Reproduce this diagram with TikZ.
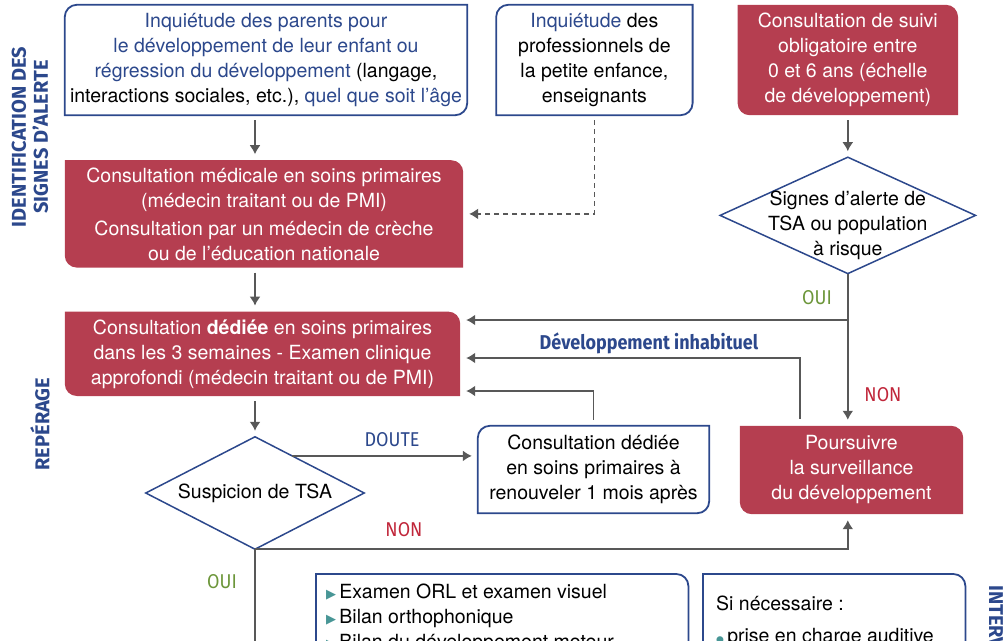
\documentclass[tikz,border=0pt]{standalone}
\usepackage{fontspec}
\setmainfont{TeX Gyre Heros}
\newfontfamily\titlefont{Fira Sans}
\newfontfamily\labelfont[FakeStretch=0.9]{Fira Sans}
\newfontfamily\symfont{DejaVu Sans}
\usetikzlibrary{positioning, calc, backgrounds, arrows.meta}
\definecolor{hasred}{RGB}{181,62,80}
\definecolor{hasblue}{RGB}{44,72,140}
\definecolor{arrowgray}{RGB}{88,88,88}
\definecolor{ouigreen}{RGB}{108,150,58}
\definecolor{nonred}{RGB}{192,38,58}
\definecolor{bullteal}{RGB}{72,150,150}
\tikzset{
	txt/.style={font=\fontsize{19.5}{25}\selectfont, align=center, inner sep=0pt},
	bluebox/.style={txt},
	redbox/.style={txt, text=white},
	frame/.style={draw=hasblue, line width=1.8pt},
	flow/.style={draw=arrowgray, line width=1.6pt, ->, shorten >=6pt, shorten <=5pt},
	% labels on the connectors
	branch/.style={font=\labelfont\fontsize{20}{20}\selectfont, inner sep=0pt},
	sectionbase/.style={font=\titlefont\bfseries\fontsize{20}{22}\selectfont, text=hasblue, align=center, inner sep=0pt},
	section/.style={sectionbase, rotate=90}
}

\begin{document}
\begin{tikzpicture}[x=1pt, y=-1pt, >={Latex[width=11pt,length=9pt]}]
	\useasboundingbox (0,0) rectangle (1008,640);

	% section titles
	\node (ident) [section] at (30,137) {IDENTIFICATION DES\\SIGNES D’ALERTE};
	\node (reper) [section] at (40,424) {REPÉRAGE};
	\node (interv) [sectionbase, rotate=-90, anchor=west] at (996,585) {INTERVENTIONS};

	% top row
	\node (parents) [bluebox, minimum width=402pt, minimum height=110pt] at (266,60) {\textcolor{hasblue}{Inquiétude des parents pour}\\ \textcolor{hasblue}{le développement de leur enfant ou}\\ \textcolor{hasblue}{régression du développement} (langage,\\ interactions sociales, etc.), \textcolor{hasblue}{quel que soit l’âge}};
	\node (pros) [bluebox, minimum width=196pt, minimum height=110pt, right=29pt of parents] {\textcolor{hasblue}{Inquiétude} des\\ professionnels de\\ la petite enfance,\\ enseignants};
	\node (suivi) [redbox, minimum width=220pt, minimum height=110pt, right=45pt of pros] {Consultation de suivi\\ obligatoire entre\\ 0 et 6 ans (échelle\\ de développement)};

	\node (medic) [redbox, minimum width=398pt, minimum height=107pt, below=45pt of parents.south west, anchor=north west] {Consultation médicale en soins primaires\\ (médecin traitant ou de PMI)\\[3pt] Consultation par un médecin de crèche\\ ou de l’éducation nationale};
	\node (signes) [minimum width=255pt, minimum height=116pt, inner sep=0pt, below=42pt of suivi] {};
	\node (signestxt) [txt] at ($(signes)+(0,10)$) {Signes d’alerte de\\ TSA ou population\\ à risque};

	\node (dediee) [redbox, minimum width=395pt, minimum height=84pt, below=44pt of medic.south west, anchor=north west] {Consultation \textbf{dédiée} en soins primaires\\ dans les 3 semaines - Examen clinique\\ approfondi (médecin traitant ou de PMI)};

	\node (susp) [txt, minimum width=218pt, minimum height=112pt] at (255,493) {Suspicion de TSA};
	\node (renouv) [bluebox, minimum width=231pt, minimum height=87pt] at (593.5,469.5) {Consultation dédiée\\ en soins primaires à\\ renouveler 1 mois après};
	\node (poursuivre) [redbox, minimum width=223pt, minimum height=88pt] at (851.5,470) {Poursuivre\\ la surveillance\\ du développement};

	\node (orl) [minimum width=372pt, minimum height=120pt, inner sep=0pt, anchor=north west] at (316,574) {};
	\node (orltxt) [txt, align=left, anchor=north west] at ([shift={(10pt,-10pt)}]orl.north west) {{\symfont\color{bullteal}\fontsize{13}{13}\selectfont ▶}\,Examen ORL et examen visuel\\ {\symfont\color{bullteal}\fontsize{13}{13}\selectfont ▶}\,Bilan orthophonique\\ {\symfont\color{bullteal}\fontsize{13}{13}\selectfont ▶}\,Bilan du développement moteur};
	\node (sinec) [minimum width=262pt, minimum height=120pt, inner sep=0pt, anchor=north west] at (703,574) {};
	\node (sinectxt) [txt, align=left, anchor=north west] at ([shift={(13pt,-22pt)}]sinec.north west) {Si nécessaire :\\[7pt] {\symfont\color{bullteal}\fontsize{9}{9}\selectfont ●}\,prise en charge auditive};

	% helper coordinates for the bends
	\coordinate (youi) at (0,320);
	\coordinate (ydev) at (800,358);
	\coordinate (yren) at (0,391);
	\coordinate (yend) at (0,670);
	\coordinate (doute) at ($(susp.north)!0.34!(susp.east)$);

	\begin{scope}[flow]
		\draw (parents.south -| susp.north) -- (medic.north -| susp.north);
		\draw (medic.south -| susp.north) -- (dediee.north -| susp.north);
		\draw (dediee.south -| susp.north) -- (susp.north);
		\draw (suivi.south -| signes.north) -- (signes.north);
		\draw[shorten <=0pt] (signes.south) -- (signes.south |- poursuivre.north);
		\draw[shorten <=0pt] (signes.south |- youi) -- (dediee.east |- youi);
		\draw[shorten <=7pt] (ydev |- poursuivre.north) -- (ydev) -- (ydev -| dediee.east);
		\draw[shorten <=6pt] (renouv.north) -- (renouv.north |- yren) -- (yren -| dediee.east);
		\draw[shorten <=0pt] (doute) -- (doute -| renouv.west);
		\draw[shorten <=0pt] (susp.south) -- (susp.south -| signes.south) -- (signes.south |- poursuivre.south);
		\draw[-, shorten <=0pt, shorten >=0pt] (susp.south) -- (susp.south |- yend);
		\draw[dash pattern=on 5pt off 4pt, line width=1.4pt] (pros.south) -- (pros.south |- medic.east) -- (medic.east);
	\end{scope}

	\node[branch, text=ouigreen] at (817,298) {OUI};
	\node[branch, text=nonred] at (883,395) {NON};
	\node[branch, text=hasblue, font=\labelfont\bfseries\fontsize{20}{20}\selectfont] at (649,343) {Développement inhabituel};
	\node[branch, text=hasblue] at (392,440) {DOUTE};
	\node[branch, text=nonred] at (404,530) {NON};
	\node[branch, text=ouigreen] at (222,582) {OUI};

	\begin{scope}[on background layer]
		\foreach \n in {suivi, medic, dediee, poursuivre}
			\fill[hasred] (\n.north west) -- ([xshift=-12pt]\n.north east) arc[start angle=90, end angle=0, radius=12pt] -- (\n.south east) -- ([xshift=12pt]\n.south west) arc[start angle=270, end angle=180, radius=12pt] -- cycle;
		\foreach \n in {parents, pros, renouv}
			\draw[frame] (\n.north east) -- ([xshift=12pt]\n.north west) arc[start angle=90, end angle=180, radius=12pt] -- (\n.south west) -- ([xshift=-12pt]\n.south east) arc[start angle=270, end angle=360, radius=12pt] -- cycle;
		\foreach \n in {orl, sinec}
			\draw[frame] (\n.north west) -- ([xshift=-12pt]\n.north east) arc[start angle=90, end angle=0, radius=12pt] -- (\n.south east) -- ([xshift=12pt]\n.south west) arc[start angle=270, end angle=180, radius=12pt] -- cycle;
		\foreach \n in {signes, susp}
			\draw[frame, line width=1.5pt] (\n.north) -- (\n.east) -- (\n.south) -- (\n.west) -- cycle;
	\end{scope}
\end{tikzpicture}
\end{document}
